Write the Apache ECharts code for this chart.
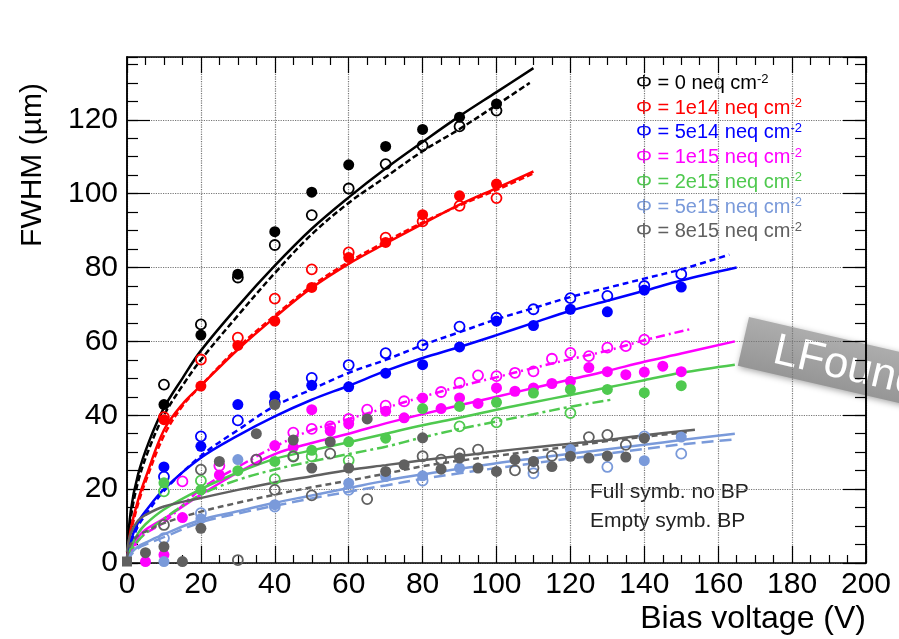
<!DOCTYPE html>
<html><head><meta charset="utf-8">
<script src="https://cdn.jsdelivr.net/npm/echarts@6/dist/echarts.min.js"></script>
<style>html,body{margin:0;padding:0;background:#fff}#c{width:899px;height:639px}</style>
</head><body><div id="c"></div>
<script>
// ---- data ----
const fluenceLabels = ['0', '1e14', '5e14', '1e15', '2e15', '5e15', '8e15'];
const xTicks = [0, 20, 40, 60, 80, 100, 120, 140, 160, 180, 200];
const yTicks = [0, 20, 40, 60, 80, 100, 120];

// Full symbols: no BP ; Empty symbols: BP ; [bias V, FWHM um]
const full_0 = [[10,42.9],[20,61.7],[30,78.2],[40,89.7],[50,100.4],[60,107.8],[70,112.8],[80,117.4],[90,120.7],[100,124.3]];
const empty_0 = [[10,48.3],[20,64.6],[30,77.3],[40,86.1],[50,94.2],[60,101.4],[70,108],[80,113],[90,118.2],[100,122.5]];
const fitFull_0 = [[0,1],[1,14],[3,24],[6,33],[10,42],[15,50],[20,57.5],[30,69.5],[40,80.5],[50,90.5],[60,99],[70,106.8],[80,114],[90,121],[100,127.5],[110,134]];
const fitEmpty_0 = [[0,0.5],[1,12],[3,22],[6,31],[10,40],[15,48],[20,55],[30,67],[40,78.5],[50,89],[60,97.5],[70,104.5],[80,111.5],[90,117.5],[100,124],[109,130]];

const full_1 = [[10,38.8],[20,47.9],[30,58.9],[40,65.5],[50,74.6],[60,82.7],[70,86.8],[80,94.3],[90,99.4],[100,102.6]];
const empty_1 = [[10,39.5],[20,55.1],[30,61],[40,71.6],[50,79.5],[60,84.1],[70,88.1],[80,92.5],[90,96.7],[100,98.8]];
const fitFull_1 = [[0,1],[1,9],[3,17],[5,23],[10,36],[15,43],[20,48],[30,57.8],[40,66.5],[50,74.5],[60,81],[70,86.5],[80,91.8],[90,97],[100,101.5],[110,106]];
const fitEmpty_1 = [[0,0.5],[1,8],[3,16],[5,22],[10,34.5],[15,42.5],[20,48],[30,58.3],[40,67],[50,75],[60,81.5],[70,87],[80,92.2],[90,96.8],[100,101],[110,105.5]];

const full_2 = [[10,26],[20,31.6],[30,42.9],[40,45.2],[50,48.1],[60,47.7],[70,51.4],[80,53.7],[90,58.5],[100,65.5],[110,64.3],[120,68.7],[130,68],[140,73.9],[150,74.7]];
const empty_2 = [[10,23.4],[20,34.3],[30,38.6],[40,43.5],[50,50.1],[60,53.6],[70,56.8],[80,59],[90,64],[100,66.4],[110,68.7],[120,71.7],[130,72.3],[140,75],[150,78.2]];
const fitFull_2 = [[0,1],[1,6],[3,11],[5,14],[10,20],[20,28.5],[30,34.5],[40,39.7],[50,44.2],[60,48],[70,52],[80,55.5],[90,58.5],[100,61.7],[110,65],[120,68.3],[130,71],[140,73.7],[150,76.5],[165,80]];
const fitEmpty_2 = [[0,0.5],[1,5],[3,10],[5,13],[10,19.5],[20,29],[30,36],[40,42.5],[50,47],[60,51.5],[70,55],[80,59],[90,62.5],[100,66],[110,69],[120,72],[130,74.5],[140,77],[150,79.5],[163,83.5]];

const full_3 = [[5,0.4],[10,2.2],[15,12.3],[25,23.8],[40,31.8],[45,31.4],[50,41.5],[55,35.8],[60,37.7],[70,41.1],[75,39.3],[80,44.7],[85,41.8],[90,44.7],[95,43.2],[100,47.4],[105,46.5],[110,47.4],[115,48.6],[120,49.2],[125,52.9],[130,51.8],[135,51],[140,51.7],[145,53.3],[150,51.8]];
const empty_3 = [[15,22.1],[25,26.3],[35,28],[45,35.3],[50,36.3],[55,37],[60,39],[65,41.5],[70,42.6],[75,43.8],[85,46.3],[90,48.8],[95,50.8],[100,50.6],[105,51.5],[110,51.9],[115,55.3],[120,56.9],[125,56],[130,58.3],[135,58.7],[140,60.5]];
const fitFull_3 = [[0,0],[1,3],[3,7],[5,9],[10,12],[20,18.5],[30,24.5],[40,29.5],[50,32.5],[60,35],[70,37.8],[80,40.3],[90,42.7],[100,45],[110,47.4],[120,49.7],[130,52],[140,54.5],[150,56.7],[164.5,60]];
const fitEmpty_3 = [[0,0],[1,2.5],[3,6],[5,8],[10,11],[20,20],[30,26],[40,31.5],[50,36],[60,39],[70,42],[80,45],[90,47.8],[100,50.3],[110,52.8],[120,55.2],[130,57.5],[140,60.3],[152.8,63.4]];

const full_4 = [[10,21.7],[20,19.8],[30,25],[40,27.5],[50,30.5],[60,32.8],[70,33.8],[80,41.8],[90,42.4],[100,43.5],[110,46],[120,47],[130,47],[140,46.1],[150,48]];
const empty_4 = [[10,19.4],[20,22.3],[40,22.7],[45,29],[50,28.9],[60,27.8],[90,37],[100,38.1],[120,40.6]];
const fitFull_4 = [[0,0],[1,4],[3,8],[5,10.5],[10,14.5],[20,20],[30,24.5],[40,28.2],[50,30.5],[60,32.7],[70,35],[80,37.3],[90,39.3],[100,41.5],[110,43.5],[120,45.5],[130,47.5],[140,49.5],[150,51.5],[164.5,53.7]];
const fitEmpty_4 = [[0,0],[1,3],[3,6],[5,8],[10,12],[20,18.5],[30,22.5],[40,25.3],[50,27.5],[60,29.5],[70,31.5],[80,34],[90,36.3],[100,38.3],[110,40.3],[120,42.3],[131,44.2]];

const full_5 = [[10,0.4],[20,12],[30,28],[40,15.8],[60,21.6],[70,23.4],[80,23.6],[90,25.7],[110,27.5],[120,30.7],[140,27.7],[150,34.1]];
const empty_5 = [[10,6.7],[20,13.5],[40,15.3],[60,19.8],[80,22.3],[110,24.3],[130,26],[140,34.3],[150,29.6]];
const fitFull_5 = [[0,0.5],[1,2.5],[3,4.5],[5,5.5],[10,7.8],[20,11.7],[30,14],[40,16.3],[50,18.3],[60,20.3],[70,22.3],[80,24],[90,25.5],[100,27],[110,28.3],[120,29.6],[130,30.8],[140,32],[150,33.3],[164.5,35]];
const fitEmpty_5 = [[0,0],[1,2],[3,4],[5,5],[10,7],[20,11],[30,13.4],[40,15.5],[50,17.5],[60,19.3],[70,21],[80,22.8],[90,24.3],[100,25.7],[110,27],[120,28.3],[130,29.6],[140,30.9],[150,32.1],[163.6,33.4]];

const full_6 = [[0,0.4],[5,2.8],[10,4.4],[15,0.4],[20,9.4],[25,27.5],[35,35],[40,42.9],[45,33.3],[50,25.7],[55,32.8],[60,25.7],[65,39],[70,24.8],[75,26.6],[80,33.9],[85,25.4],[90,28.4],[95,25.7],[100,24.8],[105,28],[110,27.5],[115,26.1],[120,28.9],[125,28.4],[130,29],[135,28.7],[140,33.8]];
const empty_6 = [[10,10.3],[20,25.3],[30,0.8],[35,28],[40,19.8],[45,28.8],[50,18.3],[55,29.6],[65,17.3],[80,28.9],[85,28],[90,29.7],[95,30.7],[105,25.1],[110,25.7],[115,29],[125,34.1],[130,34.7],[135,32]];
const fitFull_6 = [[0,3],[1,8],[3,11.5],[5,13],[10,15.3],[20,17.6],[30,19.8],[40,21.8],[50,23.5],[60,25.2],[70,26.5],[80,27.8],[90,29],[100,30.2],[110,31.3],[120,32.3],[130,33.3],[140,34.6],[153.7,36.1]];
const fitEmpty_6 = [[0,1.5],[1,5],[3,7.5],[5,8.5],[10,10.8],[20,13.9],[30,16.3],[40,18.5],[50,20.5],[60,22.3],[70,24.2],[80,26.2],[90,27.7],[100,29],[110,30.3],[120,31.6],[130,33],[140,34.2],[151.5,35.4]];

const fullSets = [full_0, full_1, full_2, full_3, full_4, full_5, full_6];
const emptySets = [empty_0, empty_1, empty_2, empty_3, empty_4, empty_5, empty_6];
const fitFullSets = [fitFull_0, fitFull_1, fitFull_2, fitFull_3, fitFull_4, fitFull_5, fitFull_6];
const fitEmptySets = [fitEmpty_0, fitEmpty_1, fitEmpty_2, fitEmpty_3, fitEmpty_4, fitEmpty_5, fitEmpty_6];

// ---- styles ----
const colors = ['#000000', '#ff0000', '#0000ff', '#ff00ff', '#4fc94f', '#7a9ada', '#606060'];
const dashes = [[6,3], [6,3], [6,4], [9,4,2,4], [11,4,3,4], [12,6], [6,4]];
const FONT = '"Liberation Sans", Arial, Helvetica, sans-serif';

const chart = echarts.init(document.getElementById('c'), null, {renderer: 'canvas'});

const series = [];
for (let i = 0; i < 7; i++) {
  series.push({
    type: 'line', name: 'fitFull' + i, data: fitFullSets[i], showSymbol: false, smooth: 0.35,
    silent: true, z: 2, lineStyle: {color: colors[i], width: 2.5, opacity: 1}
  });
  series.push({
    type: 'line', name: 'fitEmpty' + i, data: fitEmptySets[i], showSymbol: false, smooth: 0.35,
    silent: true, z: 2, lineStyle: {color: colors[i], width: 2.5, type: dashes[i], opacity: 1}
  });
}
for (let i = 0; i < 7; i++) {
  series.push({
    type: 'scatter', name: 'full' + i, z: 3,
    data: fullSets[i].map(p => (p[0] === 0 ? {value: p, symbol: 'rect', symbolSize: 10} : p)),
    symbol: 'circle', symbolSize: 11, itemStyle: {color: colors[i], opacity: 1}
  });
  series.push({
    type: 'scatter', name: 'empty' + i, z: 3, data: emptySets[i], symbol: 'circle', symbolSize: 10,
    itemStyle: {color: 'rgba(255,255,255,0)', borderColor: colors[i], borderWidth: 1.8, opacity: 1}
  });
}

const axisLine = {show: true, onZero: false, lineStyle: {color: '#000', width: 1.5}};
const tickStyle = {color: '#000', width: 1.2};

const graphics = [
  {type: 'text', x: 33, y: 165, rotation: Math.PI / 2,
   style: {text: 'FWHM (\u00b5m)', font: '30px ' + FONT, fill: '#000', align: 'center', verticalAlign: 'middle'}},
  {type: 'text', x: 866, y: 619,
   style: {text: 'Bias voltage (V)', font: '32px ' + FONT, fill: '#000', align: 'right', verticalAlign: 'middle'}},
  {type: 'text', x: 590, y: 492,
   style: {text: 'Full symb. no BP', font: '21px ' + FONT, fill: '#222', align: 'left', verticalAlign: 'middle'}},
  {type: 'text', x: 590, y: 521,
   style: {text: 'Empty symb. BP', font: '21px ' + FONT, fill: '#222', align: 'left', verticalAlign: 'middle'}},
  {type: 'group', x: 749, y: 317, rotation: -0.227, children: [
    {type: 'rect', shape: {x: 0, y: 0, width: 320, height: 50},
     style: {fill: new echarts.graphic.LinearGradient(0, 0, 0, 1, [{offset: 0, color: '#adadad'}, {offset: 1, color: '#969696'}]),
             shadowBlur: 6, shadowColor: 'rgba(0,0,0,0.35)', shadowOffsetX: 1, shadowOffsetY: 2}},
    {type: 'text', x: 32, y: 27, style: {text: 'LFoundry', font: '44px ' + FONT, fill: '#ffffff', align: 'left', verticalAlign: 'middle'}}
  ]}
];
for (let i = 0; i < 7; i++) {
  graphics.push({
    type: 'text', x: 636, y: 83.5 + 24.7 * i,
    style: {
      text: '{a|\u03a6 = ' + fluenceLabels[i] + ' neq cm}{s|-2}',
      align: 'left', verticalAlign: 'middle',
      rich: {
        a: {fontSize: 20, fontFamily: FONT, fill: colors[i], lineHeight: 22},
        s: {fontSize: 13, fontFamily: FONT, fill: colors[i], lineHeight: 13, verticalAlign: 'top'}
      }
    }
  });
}

const option = {
  animation: false,
  backgroundColor: '#fff',
  grid: {left: 127, right: 33, top: 57, bottom: 76, containLabel: false},
  xAxis: [
    {type: 'value', min: xTicks[0], max: xTicks[xTicks.length - 1], interval: 20, position: 'bottom',
     axisLine: axisLine,
     axisTick: {show: true, inside: true, length: 17, lineStyle: tickStyle},
     minorTick: {show: true, splitNumber: 4, length: 8, lineStyle: tickStyle},
     axisLabel: {fontSize: 30, color: '#000', fontFamily: FONT, margin: 7},
     splitLine: {show: true, lineStyle: {type: 'dotted', color: '#777', width: 1.2}}},
    {type: 'value', min: xTicks[0], max: xTicks[xTicks.length - 1], interval: 20, position: 'top',
     axisLine: axisLine,
     axisTick: {show: true, inside: true, length: 16, lineStyle: tickStyle},
     minorTick: {show: true, splitNumber: 4, length: 8, lineStyle: tickStyle},
     axisLabel: {show: false}, splitLine: {show: false}}
  ],
  yAxis: [
    {type: 'value', min: yTicks[0], max: 137, interval: 20, position: 'left',
     axisLine: axisLine,
     axisTick: {show: true, inside: true, length: 23, lineStyle: tickStyle},
     axisLabel: {fontSize: 30, color: '#000', fontFamily: FONT, margin: 9, showMaxLabel: false},
     splitLine: {show: true, lineStyle: {type: 'dotted', color: '#777', width: 1.2}}},
    {type: 'value', min: 0, max: 137, interval: 5, position: 'left',
     axisLine: axisLine, axisTick: {show: true, inside: true, length: 11, lineStyle: tickStyle},
     axisLabel: {show: false}, splitLine: {show: false}},
    {type: 'value', min: 0, max: 137, interval: 20, position: 'right',
     axisLine: axisLine, axisTick: {show: true, inside: true, length: 23, lineStyle: tickStyle},
     axisLabel: {show: false}, splitLine: {show: false}},
    {type: 'value', min: 0, max: 137, interval: 5, position: 'right',
     axisLine: axisLine, axisTick: {show: true, inside: true, length: 11, lineStyle: tickStyle},
     axisLabel: {show: false}, splitLine: {show: false}}
  ],
  series: series,
  graphic: graphics
};
chart.setOption(option);
</script></body></html>
